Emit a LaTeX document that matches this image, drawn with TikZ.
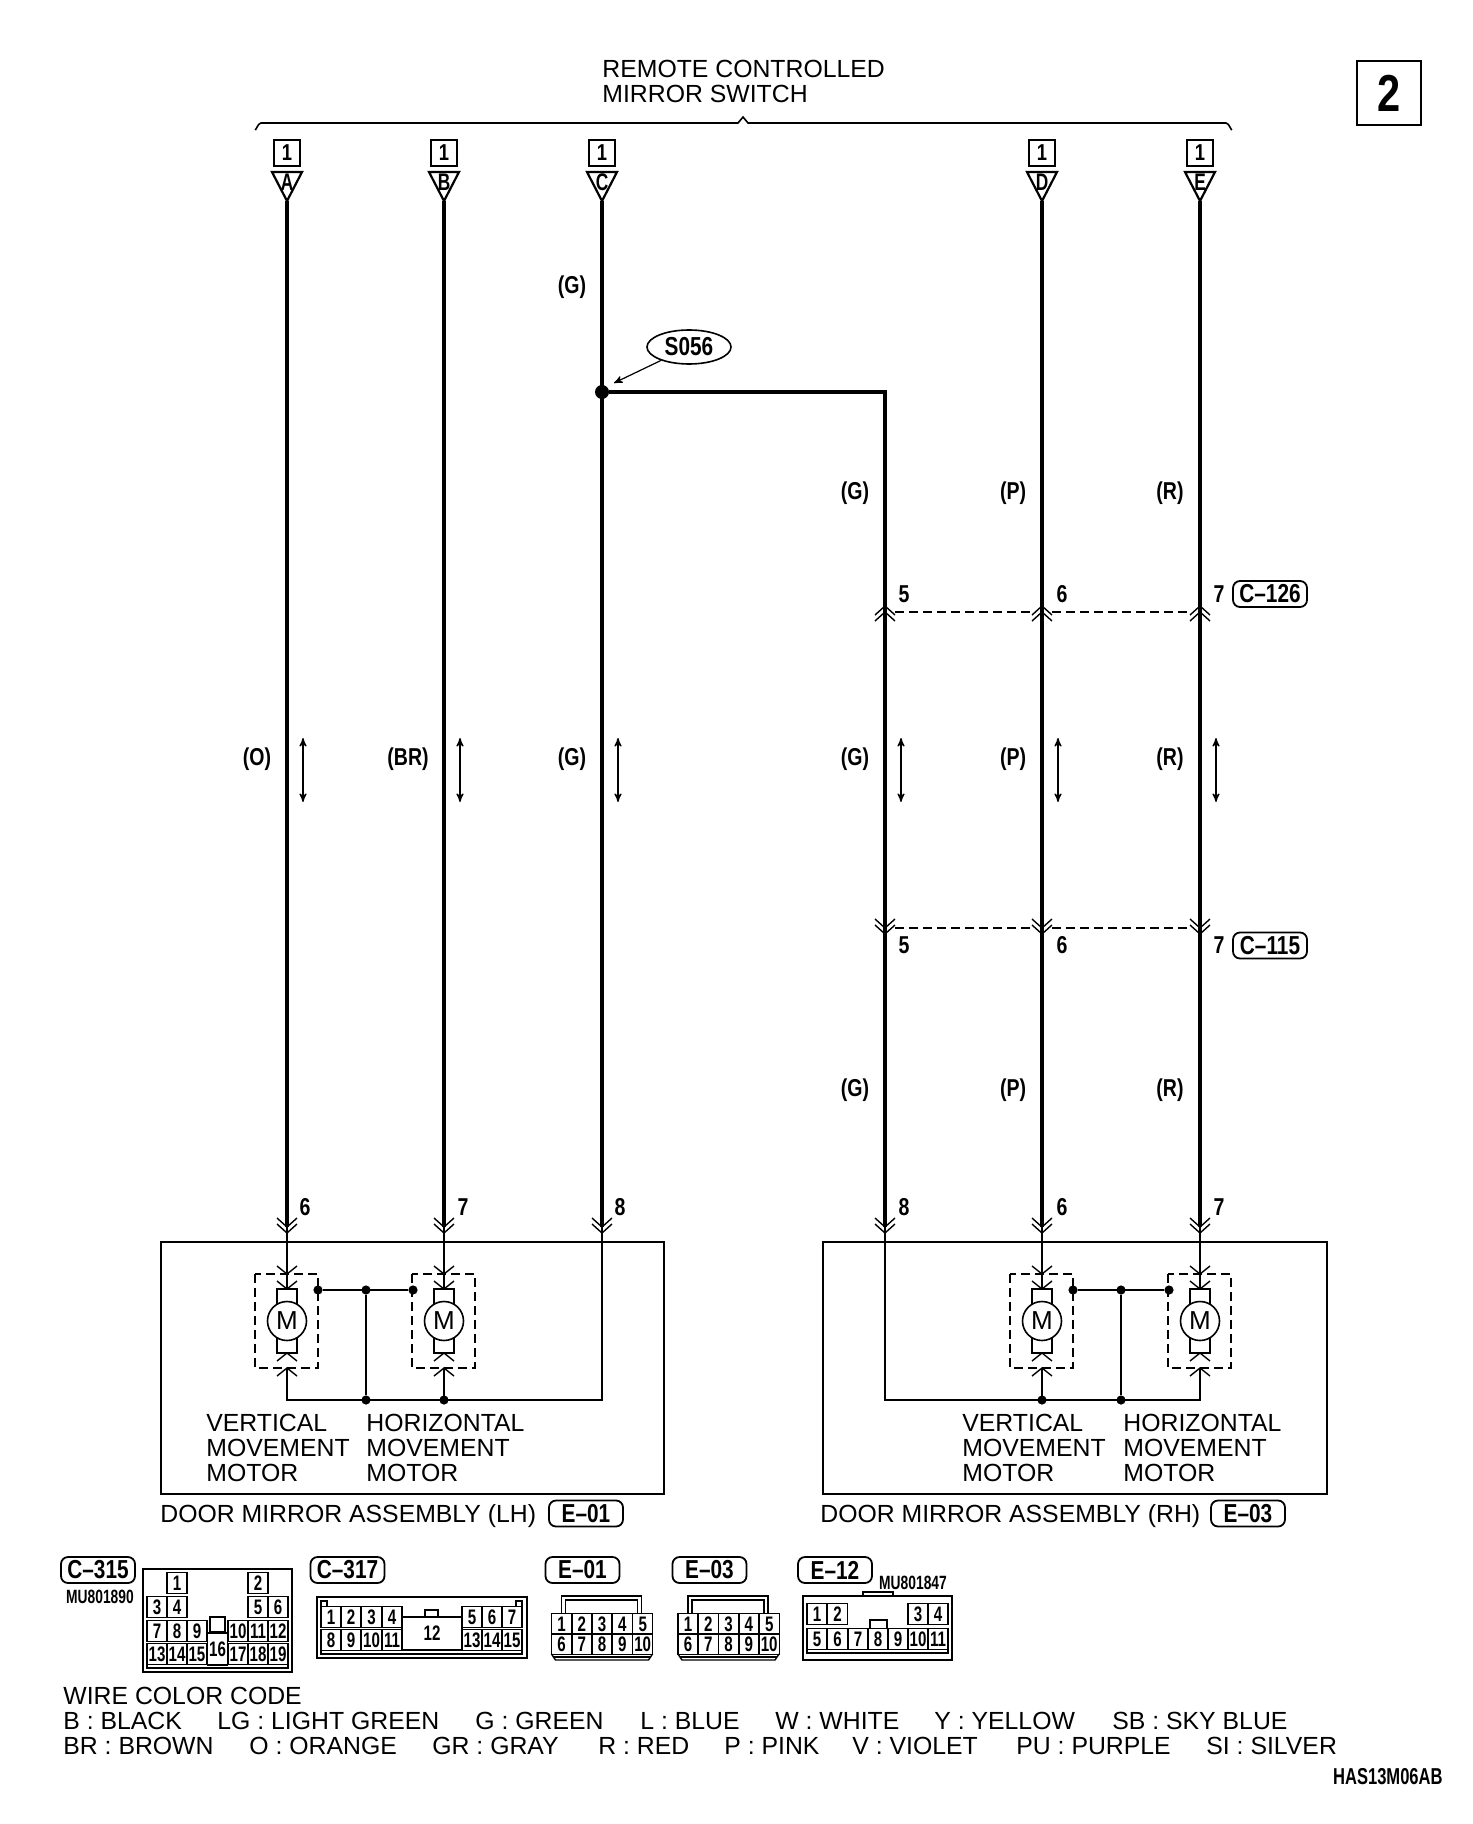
\documentclass[tikz,border=0pt]{standalone}
\usepackage{fontspec}
\setmainfont{Liberation Sans}
\newfontfamily\wirefont[FakeStretch=0.8]{Liberation Sans}
\newfontfamily\pinfont[FakeStretch=0.72]{Liberation Sans}
\usetikzlibrary{arrows,calc}
\usetikzlibrary{ shapes.geometric }
\tikzset{
	x=0.5pt,y=-0.5pt,
	>=stealth',
	plain text/.style={inner sep=0pt,font=\fontsize{12.4}{12.5}\selectfont},
	base text/.style={plain text,anchor=base west},
	block text/.style={plain text,anchor=north west,align=left},
	wirelabel/.style={inner sep=0pt,font=\wirefont\bfseries\fontsize{12.2}{12.2}\selectfont},
	smalllabel/.style={inner sep=0pt,font=\pinfont\bfseries\fontsize{#1}{#1}\selectfont},
	tagbox/.style={draw,line width=0.9pt,rounded corners=3.5pt,minimum width=37pt,minimum height=13pt,inner sep=0pt,font=\wirefont\bfseries\fontsize{13}{13}\selectfont},
	pincell/.style={draw,line width=0.7pt,minimum width=10pt,minimum height=10.5pt,inner sep=0pt,font=\pinfont\bfseries\fontsize{10.5}{10.5}\selectfont},
	wire/.style={line width=2.2pt},
	midwire/.style={line width=1.1pt},
	thinwire/.style={line width=0.65pt},
	fork/.style={line width=0.7pt},
	dashwire/.style={line width=0.6pt,dash pattern=on 4.5pt off 2.5pt},
	dot/.style={circle,fill=black,inner sep=0pt,minimum size=4.6pt},
	plugdown/.pic={\draw[fork] (-10,-9) -- (0,0) -- (10,-9) (-10,-3) -- (0,6) -- (10,-3);},
	plugup/.pic={\draw[fork] (-10,9) -- (0,0) -- (10,9) (-10,15) -- (0,6) -- (10,15);},
	forkdown/.pic={\draw[fork] (-10,-8) -- (0,0) -- (10,-8);},
	forkup/.pic={\draw[fork] (-10,8) -- (0,0) -- (10,8);}
}

\begin{document}
\begin{tikzpicture}
	\useasboundingbox (0,0) rectangle (1472,1824);

	\node[block text] (switchname) at (602,59.5) {REMOTE CONTROLLED\\MIRROR SWITCH};
	\draw[line width=0.8pt] (255,129) to[out=-80,in=180] (261,123) -- (738,123) -- (743,117) -- (748,123) -- (1226,123) to[out=0,in=-100] (1232,129);
	\node[draw,line width=1.1pt,minimum size=32pt,inner sep=0pt,font=\wirefont\bfseries\fontsize{26}{26}\selectfont] (sheet) at (1389,93) {2};

	\foreach \n/\x in {A/287,B/444,C/602,D/1042,E/1200}{
		\node[draw,line width=0.9pt,minimum size=13pt,inner sep=0pt,font=\wirefont\bfseries\fontsize{11.5}{11.5}\selectfont] (box\n) at (\x,153) {1};
		\draw[line width=1.1pt,line join=miter] (\x-15,172) -- (\x+15,172) -- (\x,201) -- cycle;
		\node[smalllabel=12] (term\n) at (\x,182) {\n};
		\coordinate (tip\n) at (\x,201);
	}

	\foreach \n/\x in {A/287,B/444,C/602,H/885,D/1042,E/1200}{
		\coordinate (end\n) at (\x,1227);
		\coordinate (bot\n) at (\x,1400);
		\path (\x,1227) pic {plugdown};
	}
	\node[circle,fill=black,inner sep=0pt,minimum size=7pt] (junc) at (602,392) {};
	\node[draw,ellipse,line width=0.8pt,minimum width=42pt,minimum height=17pt,inner sep=0pt,font=\wirefont\bfseries\fontsize{13}{13}\selectfont] (splice) at (689,347) {S056};
	\coordinate (splicetip) at (614,383);
	\draw[->,line width=0.6pt] (splice) -- (splicetip);

	\draw[wire] (tipA) -- (endA);
	\draw[wire] (tipB) -- (endB);
	\draw[wire] (tipC) -- (endC);
	\draw[wire] (tipD) -- (endD);
	\draw[wire] (tipE) -- (endE);
	\draw[wire,line join=miter] (junc) -| (endH);

	\foreach \t/\y in {upper/612,lower/928}{
		\coordinate (\t a) at (895,\y);
		\coordinate (\t b) at (1032,\y);
		\coordinate (\t c) at (1052,\y);
		\coordinate (\t d) at (1190,\y);
		\draw[dashwire] (\t a) -- (\t b) (\t c) -- (\t d);
	}
	\foreach \x in {885,1042,1200}{
		\path (\x,606) pic {plugup};
		\path (\x,928) pic {plugdown};
	}

	\foreach \n/\x/\t/\y in {a/904/5/594,b/1062/6/594,c/1219/7/594,d/904/5/945,e/1062/6/945,f/1219/7/945,g/305/6/1207,h/463/7/1207,i/620/8/1207,j/904/8/1207,k/1062/6/1207,l/1219/7/1207}{
		\node[wirelabel] (num\n) at (\x,\y) {\t};
	}
	\node[tagbox] (tagupper) at (1270,594) {C–126};
	\node[tagbox] (taglower) at (1270,945.5) {C–115};

	\foreach \n/\x/\y/\t in {a/572/287/G,b/855/493/G,c/1013/493/P,d/1170/493/R,e/257/759/O,f/408/759/BR,g/572/759/G,h/855/759/G,i/1013/759/P,j/1170/759/R,k/855/1090/G,l/1013/1090/P,m/1170/1090/R}{
		\node[wirelabel] (col\n) at (\x,\y) {(\t)};
	}
	\foreach \n/\x in {a/303,b/460,c/618,d/901,e/1058,f/1216}{
		\coordinate (up\n) at (\x,738);
		\coordinate (dn\n) at (\x,802);
		\draw[<->,line width=0.6pt] (up\n) -- (dn\n);
	}

	\draw[line width=0.8pt] (161,1242) rectangle (664,1494);
	\draw[line width=0.7pt] (823,1242) rectangle (1327,1494);

	\foreach \n/\x in {va/287,ha/444,vb/1042,hb/1200}{
		\draw[dashwire] (\x-32,1274) rectangle (\x+31,1368);
		\draw[line width=0.8pt] (\x-10,1289) rectangle (\x+10,1353);
		\node[draw,circle,fill=white,line width=0.8pt,minimum size=19.5pt,inner sep=0pt,font=\fontsize{13}{13}\selectfont] (mot\n) at (\x,1321) {M};
		\coordinate (in\n) at (\x,1289);
		\coordinate (out\n) at (\x,1368);
		\path (\x,1274) pic {forkdown};
		\path (\x,1289) pic {forkdown};
		\path (\x,1353) pic {forkup};
		\path (\x,1368) pic {forkup};
	}

	\draw[midwire] (endA) -- (inva);
	\draw[thinwire] (endB) -- (inha);
	\draw[midwire,line join=miter] (outva) |- (botC) -- (endC);
	\draw[thinwire] (outha) -- (botB);
	\draw[midwire,line join=miter] (endH) |- (botE) -- (outhb);
	\draw[thinwire] (endD) -- (invb);
	\draw[thinwire] (endE) -- (inhb);
	\draw[thinwire] (outvb) -- (botD);

	\foreach \n/\xa/\xb/\xc/\xd in {l/318/366/413/444,r/1073/1121/1169/1042}{
		\node[dot] (link\n a) at (\xa,1290) {};
		\node[dot] (link\n b) at (\xb,1290) {};
		\node[dot] (link\n c) at (\xc,1290) {};
		\node[dot] (link\n d) at (\xb,1400) {};
		\node[dot] (link\n e) at (\xd,1400) {};
		\draw[midwire] (link\n a) -- (link\n c) (link\n b) -- (link\n d);
	}

	\node[block text] (vertl) at (206,1413.5) {VERTICAL\\MOVEMENT\\MOTOR};
	\node[block text] (horl) at (366,1413.5) {HORIZONTAL\\MOVEMENT\\MOTOR};
	\node[block text] (vertr) at (962,1413.5) {VERTICAL\\MOVEMENT\\MOTOR};
	\node[block text] (horr) at (1123,1413.5) {HORIZONTAL\\MOVEMENT\\MOTOR};
	\node[base text] (asml) at (160,1522) {DOOR MIRROR ASSEMBLY (LH)};
	\node[base text] (asmr) at (820,1522) {DOOR MIRROR ASSEMBLY (RH)};
	\node[tagbox] (tagl) at (586,1513.5) {E–01};
	\node[tagbox] (tagr) at (1248,1513.5) {E–03};

	\node[tagbox] (tagcs) at (98,1570) {C–315};
	\node[tagbox] (tagcd) at (347.5,1570) {C–317};
	\node[tagbox] (tagea) at (582.5,1570) {E–01};
	\node[tagbox] (tageb) at (709.5,1570) {E–03};
	\node[tagbox] (tagec) at (835,1570) {E–12};
	\node[smalllabel=9.6] (partcs) at (100,1597) {MU801890};
	\node[smalllabel=9.6] (partec) at (913,1583) {MU801847};

	\draw[line width=1pt] (143,1569) rectangle (292,1672);
	\foreach \n/\x/\y in {1/177/1583,2/258/1583,3/157/1607,4/177/1607,5/258/1607,6/278/1607,7/157/1631,8/177/1631,9/197/1631,10/238/1631,11/258/1631,12/278/1631,13/157/1654,14/177/1654,15/197/1654,17/238/1654,18/258/1654,19/278/1654}{
		\node[pincell] (cs\n) at (\x,\y) {\n};
	}
	\node[pincell,minimum height=16pt] (cs16) at (217.5,1649) {16};
	\draw[line width=0.7pt] (210,1617) rectangle (225,1632);
	\draw[line width=0.7pt] (147,1665) -- (147,1668) -- (288,1668) -- (288,1665);

	\draw[line width=1pt] (317,1597) rectangle (527,1658);
	\foreach \n/\x/\y in {1/331/1617,2/351/1617,3/371.5/1617,4/392/1617,8/331/1640,9/351/1640,10/371.5/1640,11/392/1640,5/472/1617,6/492/1617,7/512/1617,13/472/1640,14/492/1640,15/512/1640}{
		\node[pincell] (cd\n) at (\x,\y) {\n};
	}
	\node[pincell,minimum width=30pt,minimum height=16.5pt] (cd12) at (432,1633.5) {12};
	\draw[line width=0.7pt] (425,1617) -- (425,1610) -- (438,1610) -- (438,1617);
	\draw[line width=0.7pt] (321,1607) -- (321,1601) -- (327,1601) -- (327,1607);
	\draw[line width=0.7pt] (516,1607) -- (516,1601) -- (522,1601) -- (522,1607);
	\draw[line width=0.7pt] (321,1650) -- (321,1654) -- (522,1654) -- (522,1650);

	\foreach \s/\x in {ea/561.5,eb/688}{
		\foreach \i [evaluate=\i as \px using {\x+20.3*(\i-1)}] in {1,2,3,4,5}{
			\node[pincell] (\s\i) at (\px,1624) {\i};
		}
		\foreach \i [evaluate=\i as \px using {\x+20.3*(\i-6)}] in {6,7,8,9,10}{
			\node[pincell] (\s\i) at (\px,1644) {\i};
		}
		\draw[line width=0.9pt] (\x,1614) -- (\x,1596) -- (\x+80,1596) -- (\x+80,1614);
		\draw[line width=0.7pt] (\x+4,1614) -- (\x+4,1600) -- (\x+76,1600) -- (\x+76,1614);
		\draw[line width=0.7pt] (\x-10,1654) -- (\x-6,1660) -- (\x+87,1660) -- (\x+91,1654);
		\draw[line width=0.7pt] (\x-8,1657) -- (\x+89,1657);
	}

	\draw[line width=1pt] (803,1596) rectangle (952,1660);
	\draw[line width=0.8pt] (863,1596) -- (863,1592) -- (893,1592) -- (893,1596);
	\foreach \n/\x in {1/817,2/837.5,3/918,4/938}{
		\node[pincell] (ec\n) at (\x,1614) {\n};
	}
	\foreach \n/\x in {5/817,6/837.5,7/858,8/878,9/898,10/918,11/938}{
		\node[pincell] (ec\n) at (\x,1639) {\n};
	}
	\draw[line width=0.7pt] (870,1629) -- (870,1620) -- (887,1620) -- (887,1629);
	\draw[line width=0.7pt] (807,1649) -- (807,1653) -- (948,1653) -- (948,1649);

	\node[base text] (codehead) at (63,1704) {WIRE COLOR CODE};
	\foreach \t/\x/\y [count=\i] in {B : BLACK/63/1729,LG : LIGHT GREEN/217/1729,G : GREEN/475/1729,L : BLUE/640/1729,W : WHITE/775/1729,Y : YELLOW/934/1729,SB : SKY BLUE/1112/1729,BR : BROWN/63/1754,O : ORANGE/249/1754,GR : GRAY/432/1754,R : RED/598/1754,P : PINK/724/1754,V : VIOLET/852/1754,PU : PURPLE/1016/1754,SI : SILVER/1206/1754}{
		\node[base text] (code\i) at (\x,\y) {\t};
	}
	\node[smalllabel=11.5,anchor=base east] (figid) at (1443,1784) {HAS13M06AB};
\end{tikzpicture}
\end{document}
